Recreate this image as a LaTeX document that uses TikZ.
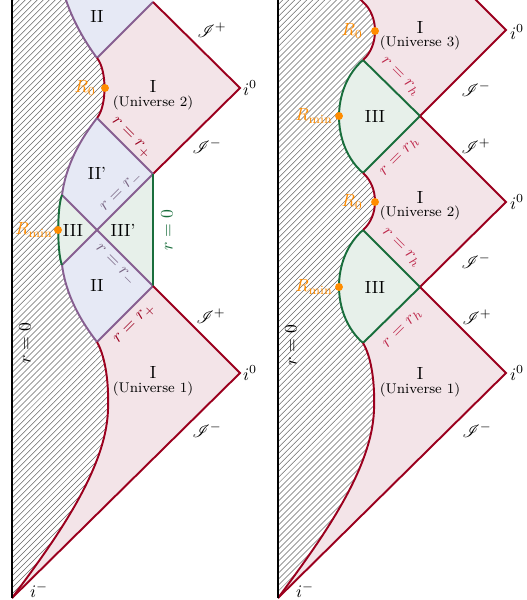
\documentclass[tikz,border=0pt]{standalone}
\usepackage{mathrsfs}
\usetikzlibrary{patterns.meta}
\definecolor{lred}{RGB}{155,0,30}
\definecolor{lredl}{RGB}{190,40,75}
\definecolor{lpurple}{RGB}{135,95,145}
\definecolor{lgreen}{RGB}{25,110,60}
\definecolor{fpink}{RGB}{243,228,232}
\definecolor{flav}{RGB}{230,233,245}
\definecolor{fgreen}{RGB}{231,240,234}
\definecolor{lorange}{RGB}{255,140,0}
\definecolor{rmlabel}{RGB}{120,100,130}
\tikzdeclarepattern{
  name=wavyhatch,
  type=uncolored,
  bounding box={(-0.6pt,-0.6pt) and (4pt,4pt)},
  tile size={(3.4pt,3.4pt)},
  code={
    \draw[line width=0.3pt] (0pt,0pt)
      .. controls (-0.141pt,0.519pt) and (0.048pt,0.708pt) .. (0.567pt,0.567pt)
      .. controls (1.086pt,0.426pt) and (1.275pt,0.615pt) .. (1.133pt,1.133pt)
      .. controls (0.992pt,1.652pt) and (1.181pt,1.841pt) .. (1.700pt,1.700pt)
      .. controls (2.219pt,1.559pt) and (2.408pt,1.748pt) .. (2.266pt,2.266pt)
      .. controls (2.125pt,2.785pt) and (2.314pt,2.974pt) .. (2.833pt,2.833pt)
      .. controls (3.352pt,2.692pt) and (3.541pt,2.881pt) .. (3.4pt,3.4pt);
  }
}
\begin{document}
\begin{tikzpicture}[x=0.568pt,y=-0.568pt,
  redln/.style={draw=lred,line width=1.1pt},
  purln/.style={draw=lpurple,line width=1.1pt},
  grnln/.style={draw=lgreen,line width=1.1pt},
  blkln/.style={draw=black,line width=1.1pt},
  hatchfill/.style={pattern={wavyhatch},pattern color=black!60},
  rdot/.style={circle,fill=lorange,inner sep=0pt,minimum size=4.5pt},
  lbl/.style={inner sep=1pt},
  ulbl/.style={font=\footnotesize,inner sep=1pt},
  orl/.style={text=lorange,inner sep=1pt,anchor=east}
]
\useasboundingbox (0,0) rectangle (526,600);
\clip (0,0) rectangle (526,600);

% ---------------- LEFT DIAGRAM ----------------
\coordinate (aT2) at (153,2);
\coordinate (aI2) at (240,88);
\coordinate (aT2b) at (153,174);
\coordinate (aL2t) at (97,58);
\coordinate (aL2b) at (97,118);
\coordinate (aC) at (97,230);
\coordinate (aQ1) at (62,195);
\coordinate (aQ2) at (62,265);
\coordinate (aT1) at (153,286);
\coordinate (aL1) at (97,342);
\coordinate (aI1) at (240,373);
\coordinate (aA) at (12,598);
\coordinate (aTop) at (64,-6);

% fills
\fill[fpink] (aL2t) -- (aT2) -- (aI2) -- (aT2b) -- (aL2b) .. controls (107,106) and (107,70) .. (aL2t) -- cycle;
\fill[flav] (aTop) -- (153,-6) -- (aT2) -- (aL2t) .. controls (85,42) and (72,20) .. (aTop) -- cycle;
\fill[flav] (aL2b) -- (aT2b) -- (aC) -- (aQ1) .. controls (66,165) and (80,140) .. (aL2b) -- cycle;
\fill[fgreen] (aQ1) -- (aC) -- (aQ2) .. controls (57,253) and (57,207) .. (aQ1) -- cycle;
\fill[fgreen] (aC) -- (aT2b) -- (aT1) -- cycle;
\fill[flav] (aQ2) -- (aC) -- (aT1) -- (aL1) .. controls (80,320) and (66,295) .. (aQ2) -- cycle;
\fill[fpink] (aL1) -- (aT1) -- (aI1) -- (aA) .. controls (55,540) and (106,470) .. (108,410) .. controls (109,385) and (106,358) .. (aL1) -- cycle;

% hatching
\path[hatchfill] (12,-8) -- (aTop) .. controls (72,20) and (85,42) .. (aL2t)
 .. controls (107,70) and (107,106) .. (aL2b)
 .. controls (80,140) and (66,165) .. (aQ1)
 .. controls (57,207) and (57,253) .. (aQ2)
 .. controls (66,295) and (80,320) .. (aL1)
 .. controls (106,358) and (109,385) .. (108,410) .. controls (106,470) and (55,540) .. (aA) -- cycle;

% lines
\draw[purln] (aT2) -- (aL2t);
\draw[redln] (aT2) -- (aI2) -- (aT2b);
\draw[purln] (aT2b) -- (aL2b);
\draw[purln] (aQ1) -- (aT1);
\draw[purln] (aQ2) -- (aT2b);
\draw[grnln] (aT2b) -- (aT1);
\draw[purln] (aT1) -- (aL1);
\draw[redln] (aT1) -- (aI1) -- (aA);
\draw[purln] (aTop) .. controls (72,20) and (85,42) .. (aL2t);
\draw[redln] (aL2t) .. controls (107,70) and (107,106) .. (aL2b);
\draw[purln] (aL2b) .. controls (80,140) and (66,165) .. (aQ1);
\draw[grnln] (aQ1) .. controls (57,207) and (57,253) .. (aQ2);
\draw[purln] (aQ2) .. controls (66,295) and (80,320) .. (aL1);
\draw[redln] (aL1) .. controls (106,358) and (109,385) .. (108,410) .. controls (106,470) and (55,540) .. (aA);
\draw[blkln] (12,-6) -- (aA);

% dots and labels
\node[rdot] (aR0) at (105,88) {};
\node[orl] (aR0l) at (98,88) {$R_0$};
\node[rdot] (aRm) at (58,230) {};
\node[orl] (aRml) at (55,230) {$R_{\min}$};
\node[lbl] (aII1) at (97,16) {II};
\node[lbl] (aU2) at (153,86) {I};
\node[ulbl] (aU2t) at (153,103) {(Universe 2)};
\node[lbl] (aSp2) at (212,30) {$\mathscr{I}^+$};
\node[lbl] (ai02) at (250,88) {$i^0$};
\node[lbl] (aSm2) at (207,146) {$\mathscr{I}^-$};
\node[lbl,text=lred,rotate=-45] (arp1) at (131,138) {$r=r_+$};
\node[lbl] (aIIp) at (97,173) {II'};
\node[lbl,text=rmlabel,rotate=45] (arm1) at (122,192) {$r=r_-$};
\node[lbl] (aIII) at (73,230) {III};
\node[lbl] (aIIIp) at (123,230) {III'};
\node[lbl,text=lgreen,rotate=90] (ar0g) at (167,230) {$r=0$};
\node[lbl,text=rmlabel,rotate=-45] (arm2) at (115,266) {$r=r_-$};
\node[lbl] (aII2) at (97,285) {II};
\node[lbl,text=lred,rotate=45] (arp2) at (135,324) {$r=r_+$};
\node[lbl] (aSp1) at (211,316) {$\mathscr{I}^+$};
\node[lbl] (ai01) at (250,373) {$i^0$};
\node[lbl] (aU1) at (153,372) {I};
\node[ulbl] (aU1t) at (153,389) {(Universe 1)};
\node[lbl] (aSm1) at (207,430) {$\mathscr{I}^-$};
\node[lbl,rotate=90] (ar0) at (25,343) {$r=0$};
\node[lbl] (aim) at (39,590) {$i^-$};

% ---------------- RIGHT DIAGRAM ----------------
\coordinate (bB3) at (420,116);
\coordinate (bI3) at (506,30);
\coordinate (bE3) at (468,-8);
\coordinate (bL3) at (363,60);
\coordinate (bTc) at (363,2);
\coordinate (bTop) at (355,-6);
\coordinate (bI2) at (506,202);
\coordinate (bB2) at (420,287);
\coordinate (bL2t) at (363,173);
\coordinate (bL2b) at (363,230);
\coordinate (bI1) at (506,373);
\coordinate (bL1) at (363,343);
\coordinate (bA) at (278,598);

\fill[fpink] (bTop) -- (bE3) -- (bI3) -- (bB3) -- (bL3) .. controls (379,46) and (379,16) .. (bTc) -- cycle;
\fill[fgreen] (bL3) -- (bB3) -- (bL2t) .. controls (331,145) and (331,88) .. (bL3) -- cycle;
\fill[fpink] (bB3) -- (bI2) -- (bB2) -- (bL2b) .. controls (379,216) and (379,187) .. (bL2t) -- cycle;
\fill[fgreen] (bL2b) -- (bB2) -- (bL1) .. controls (331,315) and (331,258) .. (bL2b) -- cycle;
\fill[fpink] (bL1) -- (bB2) -- (bI1) -- (bA) .. controls (321,540) and (372,470) .. (374,410) .. controls (375,385) and (372,358) .. (bL1) -- cycle;

\path[hatchfill] (278,-8) -- (bTop) -- (bTc) .. controls (379,16) and (379,46) .. (bL3)
 .. controls (331,88) and (331,145) .. (bL2t)
 .. controls (379,187) and (379,216) .. (bL2b)
 .. controls (331,258) and (331,315) .. (bL1)
 .. controls (372,358) and (375,385) .. (374,410) .. controls (372,470) and (321,540) .. (bA) -- cycle;

\draw[redln] (bE3) -- (bI3) -- (bB3);
\draw[grnln] (bB3) -- (bL3);
\draw[grnln] (bB3) -- (bL2t);
\draw[redln] (bB3) -- (bI2) -- (bB2);
\draw[grnln] (bB2) -- (bL2b);
\draw[grnln] (bB2) -- (bL1);
\draw[redln] (bB2) -- (bI1) -- (bA);
\draw[redln] (bTop) -- (bTc) .. controls (379,16) and (379,46) .. (bL3);
\draw[grnln] (bL3) .. controls (331,88) and (331,145) .. (bL2t);
\draw[redln] (bL2t) .. controls (379,187) and (379,216) .. (bL2b);
\draw[grnln] (bL2b) .. controls (331,258) and (331,315) .. (bL1);
\draw[redln] (bL1) .. controls (372,358) and (375,385) .. (374,410) .. controls (372,470) and (321,540) .. (bA);
\draw[blkln] (278,-6) -- (bA);

\node[rdot] (bR03) at (375,31) {};
\node[orl] (bR03l) at (365,31) {$R_0$};
\node[lbl] (bU3) at (420,27) {I};
\node[ulbl] (bU3t) at (420,43) {(Universe 3)};
\node[lbl] (bi03) at (517,32) {$i^0$};
\node[lbl,text=lredl,rotate=-45] (brh1) at (400,77) {$r=r_h$};
\node[lbl] (bSm3) at (476,89) {$\mathscr{I}^-$};
\node[rdot] (bRm1) at (339,116) {};
\node[orl] (bRm1l) at (335,116) {$R_{\min}$};
\node[lbl] (bIII1) at (375,116) {III};
\node[lbl] (bSp2) at (476,146) {$\mathscr{I}^+$};
\node[lbl,text=lredl,rotate=45] (brh2) at (400,157) {$r=r_h$};
\node[rdot] (bR02) at (375,202) {};
\node[orl] (bR02l) at (365,202) {$R_0$};
\node[lbl] (bU2) at (420,197) {I};
\node[ulbl] (bU2t) at (420,213) {(Universe 2)};
\node[lbl] (bi02) at (517,202) {$i^0$};
\node[lbl,text=lredl,rotate=-45] (brh3) at (401,248) {$r=r_h$};
\node[lbl] (bSm2) at (476,261) {$\mathscr{I}^-$};
\node[rdot] (bRm2) at (339,287) {};
\node[orl] (bRm2l) at (335,287) {$R_{\min}$};
\node[lbl] (bIII2) at (375,287) {III};
\node[lbl] (bSp1) at (477,317) {$\mathscr{I}^+$};
\node[lbl,text=lredl,rotate=45] (brh4) at (403,329) {$r=r_h$};
\node[lbl,rotate=90] (br0) at (291,345) {$r=0$};
\node[lbl] (bU1) at (420,373) {I};
\node[ulbl] (bU1t) at (420,390) {(Universe 1)};
\node[lbl] (bi01) at (517,373) {$i^0$};
\node[lbl] (bSm1) at (477,430) {$\mathscr{I}^-$};
\node[lbl] (bim) at (305,590) {$i^-$};
\end{tikzpicture}
\end{document}
